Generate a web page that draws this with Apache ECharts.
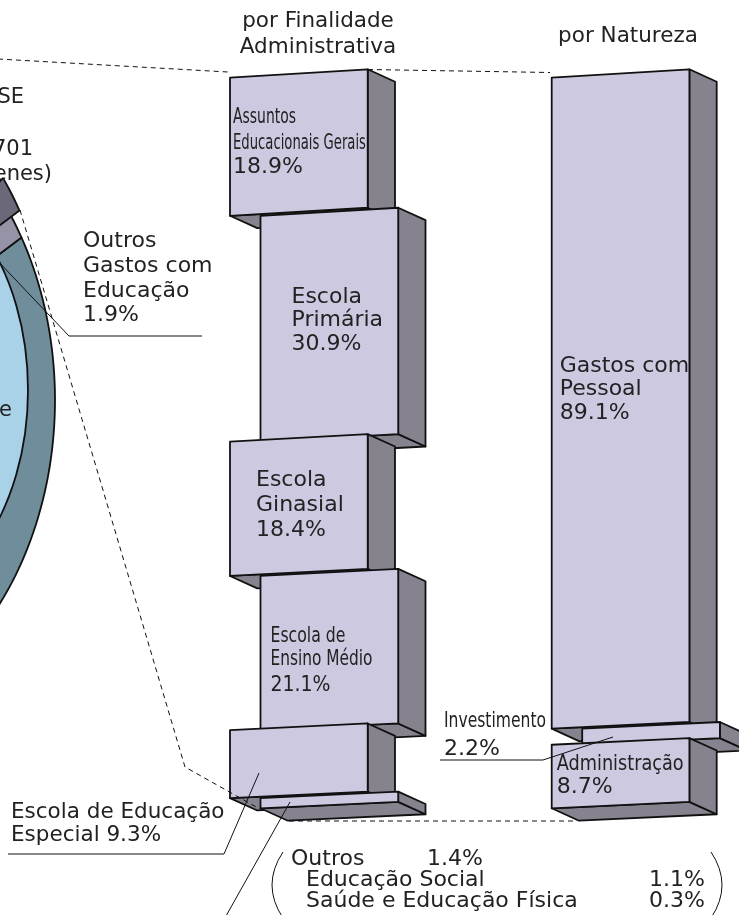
<!DOCTYPE html>
<html>
<head>
<meta charset="utf-8">
<script src="https://cdn.jsdelivr.net/npm/echarts@6/dist/echarts.min.js"></script>
<style>
  html, body { margin: 0; background: #fff; }
  #chart { width: 739px; height: 915px; }
</style>
</head>
<body>
<div id="chart"></div>
<script>
// --- data (percent of total) ---
const finalidadeNames = ['Assuntos\nEducacionais Gerais', 'Escola\nPrimária', 'Escola\nGinasial',
  'Escola de\nEnsino Médio', 'Escola de Educação\nEspecial', 'Outros'];
const finalidadeValues = [18.9, 30.9, 18.4, 21.1, 9.3, 1.4];
const naturezaNames = ['Gastos com\nPessoal', 'Investimento', 'Administração'];
const naturezaValues = [89.1, 2.2, 8.7];
const outrosNames = ['Educação Social', 'Saúde e Educação Física'];
const outrosValues = [1.1, 0.3];
const pieNames = ['', 'Outros\nGastos com\nEducação'];
const pieValues = [98.1, 1.9];
const columnTitles = ['por Finalidade\nAdministrativa', 'por Natureza'];
const totalFragments = ['SE', '701', 'enes)', 'e'];

// --- look ---
const INK = '#222';
const FRONT = '#cdc9e1';
const SIDE = '#86838f';
const RIM = '#6f8d9b';
const FACE = '#a9d2e8';
const SLICE = '#6b6879';
const SLICE_HOLE = '#9693a6';
const FAMILY = '"DejaVu Sans", "Noto Sans", sans-serif';
const font = px => `${px}px ${FAMILY}`;
const EDGE = { stroke: '#111', lineWidth: 1.8, lineJoin: 'round' };

const W = 137.7;            // front face width
const STAGGER = 30.5;       // every other block steps right
const DEPTH = [27.3, 12.4]; // oblique depth vector
const slopeAt = y => 0.061 - 0.014 * (y - 77.7) / 730.6;

// label placement inside blocks: offsets from the front face top-left, narrow = target width
const finalidadeLabelLayout = [
  { dx: 3, dy: [40.3, 66.3, 89.3], narrow: [63, 133, 0] },
  { dx: 31, dy: [81, 104, 128], narrow: [0, 0, 0] },
  { dx: 26, dy: [38.5, 64, 89], narrow: [0, 0, 0] },
  { dx: 10, dy: [61, 84, 110], narrow: [75, 102, 60] },
  null, null,
];
const naturezaLabelLayout = [
  { dx: 8, dy: [289, 312, 336], narrow: [0, 0, 0] },
  null,
  { dx: 5, dy: [20, 43], narrow: [127, 0] },
];
const leftShift = [0, 1, 0, 1, 0, 1];
const rightShift = [0, 1, 0];

const pct = v => v.toFixed(1) + '%';

const measureCtx = document.createElement('canvas').getContext('2d');
function fitScale(text, f, width) {
  if (!width) return 1;
  measureCtx.font = f;
  return width / measureCtx.measureText(text).width;
}
function textEl(text, x, y, opts = {}) {
  const f = opts.font || font(opts.size || 22);
  return {
    type: 'text', x, y, z2: opts.z2 || 0,
    scaleX: fitScale(text, f, opts.width),
    style: { text, font: f, fill: INK, align: opts.align || 'left', verticalAlign: 'middle' },
  };
}

function stackItems(col, values, shifts) {
  let acc = 0;
  return values.map((v, i) => {
    const item = [col, acc, acc + v, shifts[i], i];
    acc += v;
    return item;
  });
}

function renderBlock(params, api) {
  const col = api.value(0), idx = api.value(4);
  const top = api.coord([col, api.value(1)]);
  const bot = api.coord([col, api.value(2)]);
  const x0 = top[0] + api.value(3) * STAGGER;
  const yT = top[1], yB = bot[1];
  const TL = [x0, yT], TR = [x0 + W, yT - slopeAt(yT) * W];
  const BL = [x0, yB], BR = [x0 + W, yB - slopeAt(yB) * W];
  const back = p => [p[0] + DEPTH[0], p[1] + DEPTH[1]];
  const z = idx * 10;
  const children = [
    { type: 'polygon', z2: z, shape: { points: [BL, BR, back(BR), back(BL)] }, style: { fill: SIDE, ...EDGE } },
    { type: 'polygon', z2: z + 1, shape: { points: [TR, back(TR), back(BR), BR] }, style: { fill: SIDE, ...EDGE } },
    { type: 'polygon', z2: z + 2, shape: { points: [TL, TR, BR, BL] }, style: { fill: FRONT, ...EDGE } },
  ];
  const names = col === 0 ? finalidadeNames : naturezaNames;
  const values = col === 0 ? finalidadeValues : naturezaValues;
  const layout = (col === 0 ? finalidadeLabelLayout : naturezaLabelLayout)[idx];
  if (layout) {
    const lines = names[idx].split('\n').concat(pct(values[idx]));
    lines.forEach((t, k) => {
      const narrow = layout.narrow[k];
      children.push(textEl(t, x0 + layout.dx, yT + layout.dy[k],
        { size: narrow ? 21 : 22, width: narrow, z2: z + 3 }));
    });
  }
  return { type: 'group', children };
}

// --- pie (mostly off the left edge) ---
const PIE_FACE = { cx: -122, cy: 390, rx: 150, ry: 218 };
const PIE_RIM = { cx: -195, cy: 400, rx: 250, ry: 325 };
const PIE_START = 36.84;
const PIE_EXPLODE = [-2, -27];

function arc(e, a0, a1, off) {
  const pts = [];
  const n = Math.max(2, Math.ceil(Math.abs(a1 - a0) / 1.5));
  for (let i = 0; i <= n; i++) {
    const a = (a0 + (a1 - a0) * i / n) * Math.PI / 180;
    pts.push([e.cx + e.rx * Math.cos(a) + off[0], e.cy - e.ry * Math.sin(a) + off[1]]);
  }
  return pts;
}

function renderPie(params, api) {
  const i = params.dataIndex;
  const total = pieValues.reduce((a, b) => a + b, 0);
  const before = pieValues.slice(0, i).reduce((a, b) => a + b, 0);
  const a0 = PIE_START + before / total * 360;
  const a1 = a0 + api.value(0) / total * 360;
  const centre = [PIE_RIM.cx, PIE_RIM.cy];
  if (i === 0) {
    return {
      type: 'group', children: [
        { type: 'polygon', z2: 0, shape: { points: [centre, ...arc(PIE_RIM, a0, a1, [0, 0])] }, style: { fill: RIM, ...EDGE } },
        { type: 'ellipse', z2: 2, shape: { cx: PIE_FACE.cx, cy: PIE_FACE.cy, rx: PIE_FACE.rx, ry: PIE_FACE.ry }, style: { fill: FACE, ...EDGE } },
      ],
    };
  }
  const moved = [centre[0] + PIE_EXPLODE[0], centre[1] + PIE_EXPLODE[1]];
  return {
    type: 'group', children: [
      { type: 'polygon', z2: 1, shape: { points: [centre, ...arc(PIE_RIM, a0, a1, [0, 0])] }, style: { fill: SLICE_HOLE, ...EDGE } },
      { type: 'polygon', z2: 3, shape: { points: [moved, ...arc(PIE_RIM, a0, a1, PIE_EXPLODE)] }, style: { fill: SLICE, ...EDGE } },
    ],
  };
}

// --- annotations ---
const solid = { stroke: '#111', lineWidth: 1, fill: null };
const dashed = { stroke: '#111', lineWidth: 1, fill: null, lineDash: [5, 4] };
const line = (points, style) => ({ type: 'polyline', z: 10, shape: { points }, style });

const graphic = [
  line([[-2, 59], [228, 72]], dashed),
  line([[368, 69.5], [550, 72.5]], dashed),
  line([[20, 210], [185, 767], [258, 808]], dashed),
  line([[289, 821], [577, 821]], dashed),

  line([[-6, 257], [69, 336], [202, 336]], solid),
  line([[440, 760], [543, 760], [613, 737]], solid),
  line([[8, 854], [224, 854], [259, 773]], solid),
  line([[226, 916], [290, 802]], solid),
  { type: 'bezierCurve', z: 10, shape: { x1: 283, y1: 852, cpx1: 261, cpy1: 885, x2: 283, y2: 918 }, style: solid },
  { type: 'bezierCurve', z: 10, shape: { x1: 711, y1: 852, cpx1: 733, cpy1: 885, x2: 711, y2: 918 }, style: solid },
];

const T = (t, x, y, o) => Object.assign(textEl(t, x, y, o), { z: 20 });
// column titles
columnTitles[0].split('\n').forEach((t, k) => graphic.push(T(t, 318, [21, 47][k], { size: 21.5, align: 'center' })));
graphic.push(T(columnTitles[1], 628, 36, { size: 21.5, align: 'center' }));
// cut-off pie captions
[[24, 97.5], [33, 150], [52, 175], [12, 411]].forEach(([x, y], k) =>
  graphic.push(T(totalFragments[k], x, y, { size: 21, align: 'right' })));
// pie slice label
pieNames[1].split('\n').concat(pct(pieValues[1])).forEach((t, k) =>
  graphic.push(T(t, 83, [241, 266, 291, 315][k], { size: 22 })));
// Escola de Educação Especial
{
  const lines = finalidadeNames[4].split('\n');
  lines[lines.length - 1] += ' ' + pct(finalidadeValues[4]);
  lines.forEach((t, k) => graphic.push(T(t, 11, [812, 835][k], { size: 21.5 })));
}
// Investimento
graphic.push(T(naturezaNames[1], 444, 722, { size: 21, width: 102 }));
graphic.push(T(pct(naturezaValues[1]), 444, 749, { size: 22 }));
// Outros breakdown
graphic.push(T(finalidadeNames[5], 291, 859, { size: 22 }));
graphic.push(T(pct(finalidadeValues[5]), 427, 859, { size: 22 }));
outrosNames.forEach((n, k) => {
  graphic.push(T(n, 306, [880, 901][k], { size: 22 }));
  graphic.push(T(pct(outrosValues[k]), 705, [880, 901][k], { size: 22, align: 'right' }));
});

const chart = echarts.init(document.getElementById('chart'), null, { renderer: 'canvas' });
chart.setOption({
  animation: false,
  grid: { left: 230, top: 77.7, width: 321.7, height: 730.6 },
  xAxis: { type: 'value', min: 0, max: 1, show: false },
  yAxis: { type: 'value', min: 0, max: 100, inverse: true, show: false },
  series: [
    { type: 'custom', name: 'total', coordinateSystem: 'none', z: 1, silent: true,
      data: pieValues.map((v, i) => [v, i]), renderItem: renderPie },
    { type: 'custom', name: columnTitles[0], z: 3, silent: true,
      data: stackItems(0, finalidadeValues, leftShift), renderItem: renderBlock },
    { type: 'custom', name: columnTitles[1], z: 3, silent: true,
      data: stackItems(1, naturezaValues, rightShift), renderItem: renderBlock },
  ],
  graphic,
});
</script>
</body>
</html>
